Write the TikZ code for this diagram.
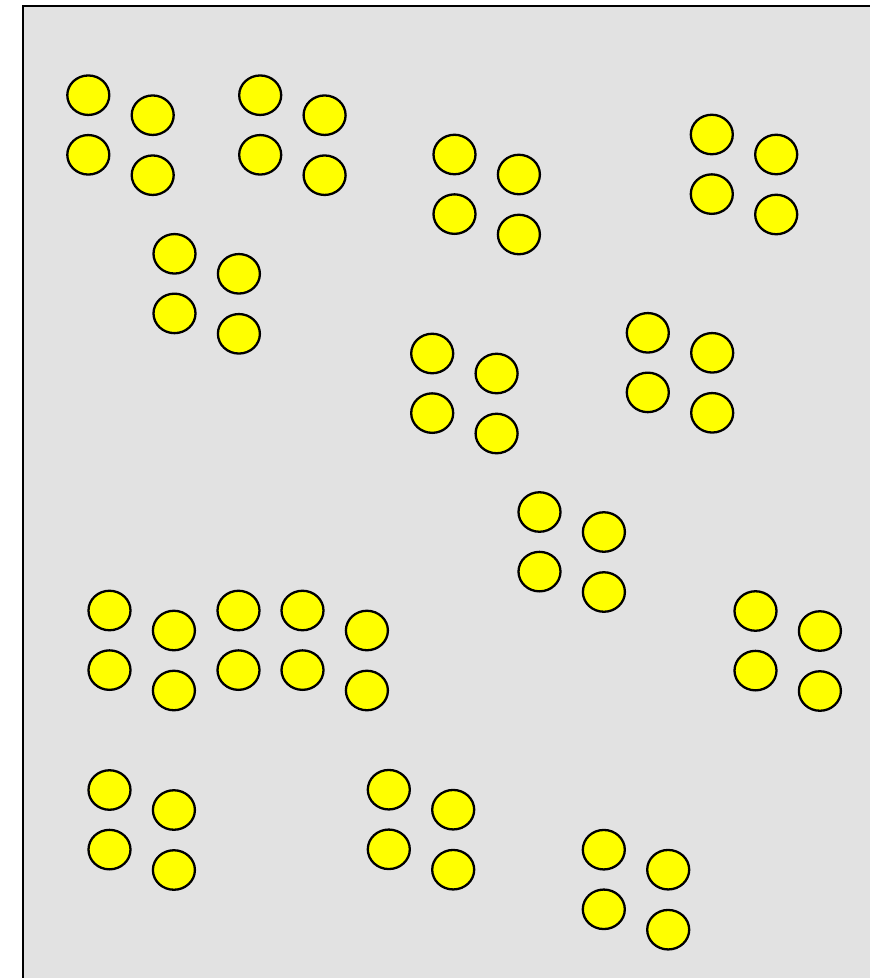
\documentclass[tikz,border=0pt]{standalone}
\usetikzlibrary{shapes.geometric}
\definecolor{bggray}{RGB}{226,226,226}
\definecolor{ballyellow}{RGB}{255,255,0}
\tikzset{
  ball/.style={ellipse, draw=black, fill=ballyellow, line width=2.3pt,
    minimum width=42pt, minimum height=39.5pt, inner sep=0pt},
  frame/.style={draw=black, fill=bggray, line width=2.2pt}
}
\begin{document}
\begin{tikzpicture}[x=1pt,y=-1pt]
\useasboundingbox (0,0) rectangle (870,978);
\clip (0,0) rectangle (870,978);
\path[frame] (23,6) rectangle (900,1000);
\foreach \gx/\gy [count=\g] in {88.3/95.2, 260.2/95.2, 454.5/154.5, 711.8/134.5, 174.5/253.8, 432.2/353.5, 647.8/332.8, 539.5/512, 109.5/610.5, 302.5/610.5, 755.5/611, 109.5/790, 388.8/789.7, 603.8/849.7}{
  \node[ball] (g\g a) at (\gx,\gy) {};
  \node[ball] (g\g b) at (\gx+64.4,\gy+20) {};
  \node[ball] (g\g c) at (\gx,\gy+59.6) {};
  \node[ball] (g\g d) at (\gx+64.4,\gy+80) {};
}
\node[ball] (x1) at (238.5,610.5) {};
\node[ball] (x2) at (238.5,670.1) {};
\end{tikzpicture}
\end{document}
